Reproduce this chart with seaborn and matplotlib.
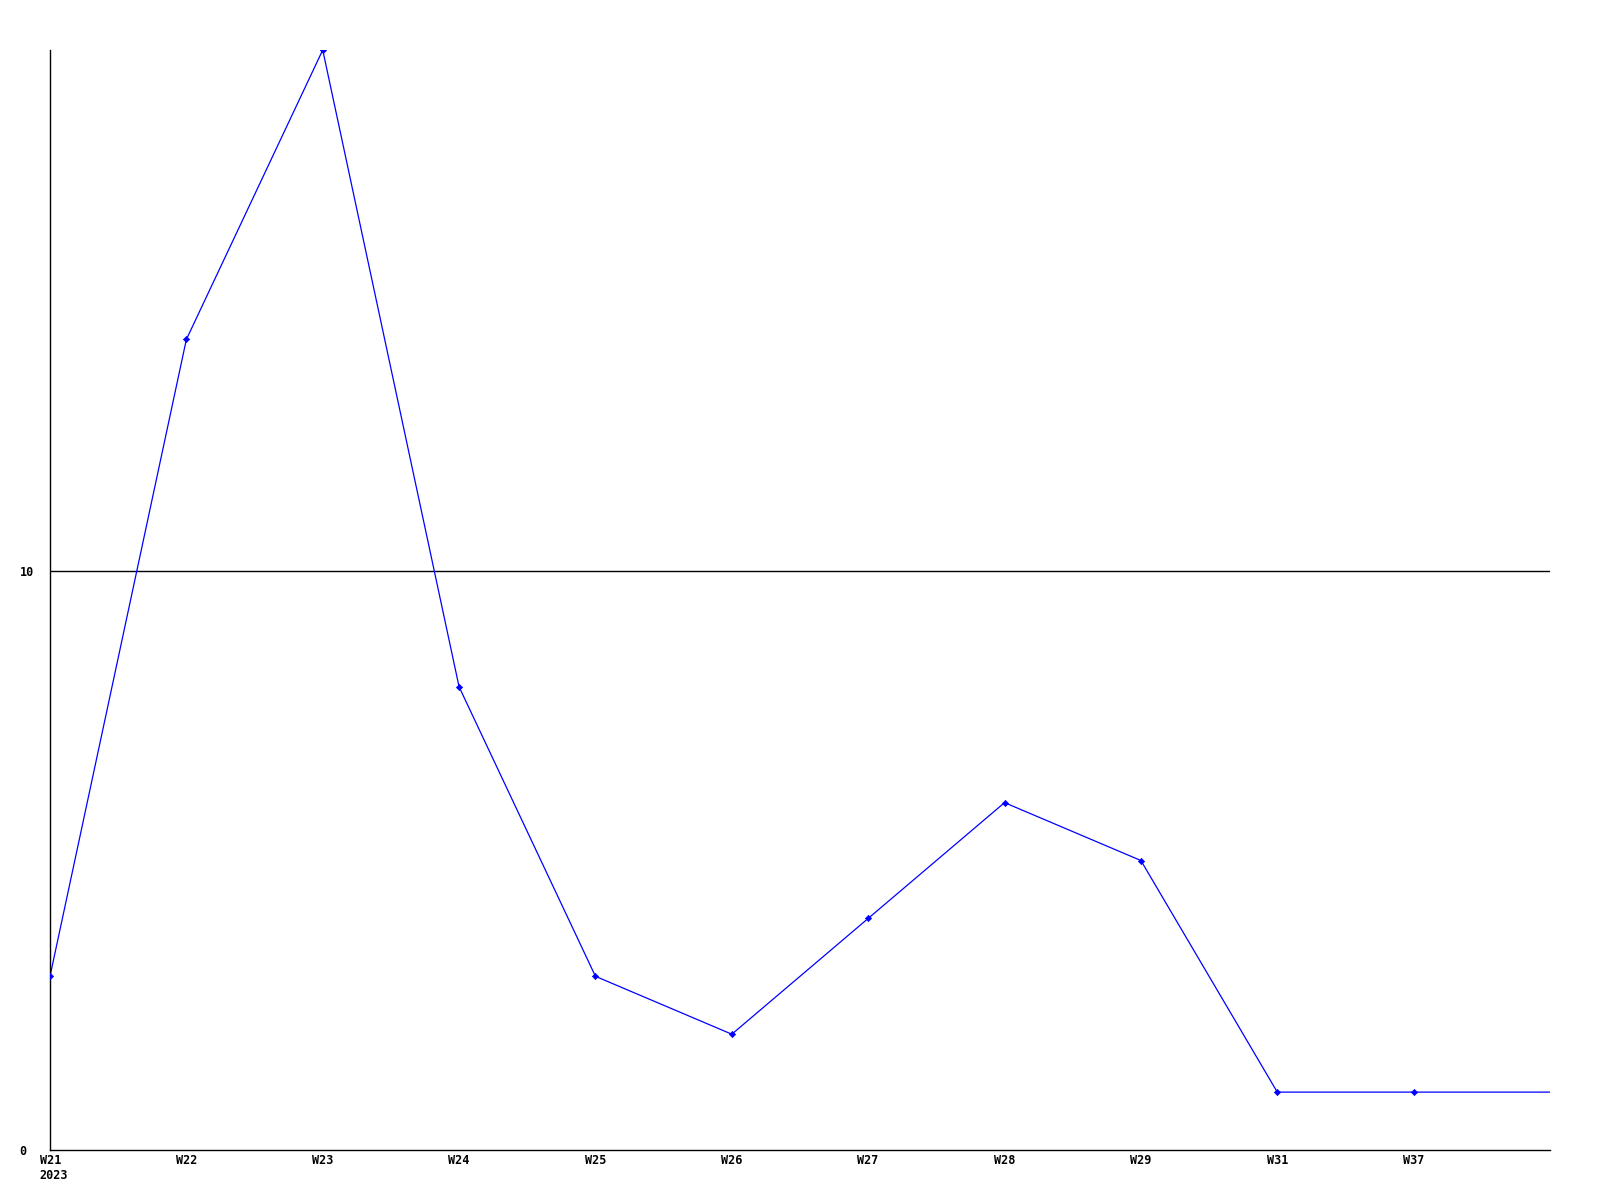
import pandas as pd
import seaborn as sns
import matplotlib.pyplot as plt
from matplotlib.transforms import ScaledTranslation

# weekly counts
weeks = ["W21", "W22", "W23", "W24", "W25", "W26", "W27", "W28", "W29", "W31", "W37"]
counts = [3, 14, 19, 8, 3, 2, 4, 6, 5, 1, 1]
# the line runs on past the last week to the right edge
tail_value = 1

sns.set_style("white")
plt.rcParams['font.family'] = ['DejaVu Sans Mono']

df = pd.DataFrame({"pos": range(len(weeks)), "count": counts})
line_df = pd.DataFrame({"pos": list(range(len(weeks) + 1)),
                        "count": counts + [tail_value]})

fig = plt.figure(figsize=(16, 12), dpi=100)
ax = fig.add_axes([50 / 1600, 50 / 1200, 1500 / 1600, 1100 / 1200])

sns.lineplot(data=line_df, x="pos", y="count", color="#0000ff", linewidth=0.9, ax=ax)
sns.scatterplot(data=df, x="pos", y="count", color="#0000ff", marker="D", s=10,
                edgecolor="#0000ff", linewidth=0.5, ax=ax, zorder=3)

ax.axhline(10, color="black", linewidth=1.0, zorder=1)

ax.set_xlim(0, len(weeks))
ax.set_ylim(0, 19)
ax.set_xticks(range(len(weeks)))
labels = [w if i else w + "\n2023" for i, w in enumerate(weeks)]
ax.set_xticklabels(labels, fontsize=8.5, fontweight="bold", color="black")
ax.set_yticks([0, 10])
ax.set_yticklabels(["0", "10"], fontsize=8.5, fontweight="bold", color="black")
ax.tick_params(axis="x", length=0, pad=3)
ax.tick_params(axis="y", length=0, pad=22)
for lab in ax.get_yticklabels():
    lab.set_horizontalalignment("left")
# first label block is left-aligned under the W21 text
first = ax.get_xticklabels()[0]
first.set_horizontalalignment("left")
first.set_multialignment("left")
first.set_transform(first.get_transform() + ScaledTranslation(-10.5 / 100, 0, fig.dpi_scale_trans))
ax.set_xlabel("")
ax.set_ylabel("")

for side in ["top", "right"]:
    ax.spines[side].set_visible(False)
for side in ["left", "bottom"]:
    ax.spines[side].set_color("black")
    ax.spines[side].set_linewidth(1.0)

fig.savefig("out.png", dpi=100, facecolor="white")
